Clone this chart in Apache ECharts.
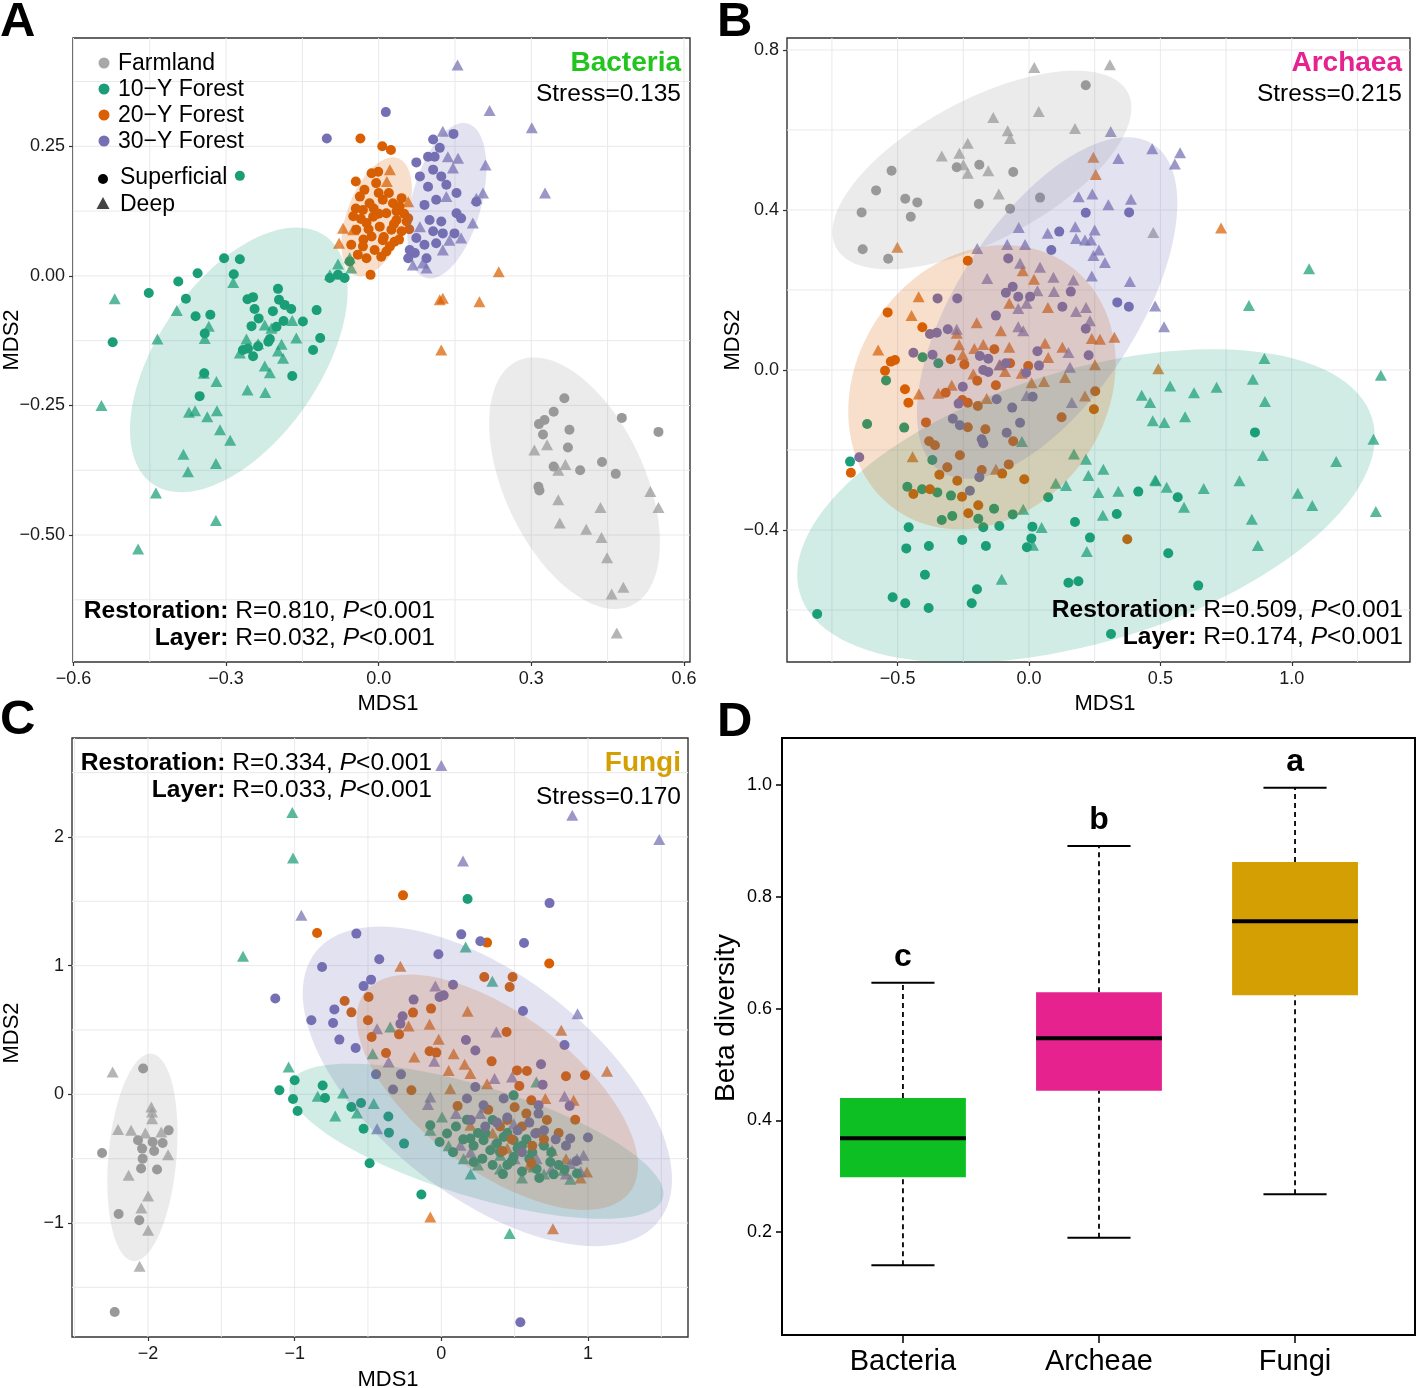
<!DOCTYPE html>
<html><head><meta charset="utf-8">
<script src="https://cdn.jsdelivr.net/npm/echarts@6/dist/echarts.min.js"></script>
<style>html,body{margin:0;padding:0;background:#fff}#c{width:1416px;height:1388px}</style>
</head><body><div id="c"></div>
<script>
// ---------------- DATA ----------------
const groupNames = ['Farmland', '10\u2212Y Forest', '20\u2212Y Forest', '30\u2212Y Forest'];
const groupColors = ['#999999', '#1b9e77', '#d95f02', '#7570b3'];

// Panel A (Bacteria)
const aFarmSup = [[0.365,-0.236],[0.344,-0.262],[0.326,-0.278],[0.315,-0.286],[0.323,-0.306],[0.375,-0.297],[0.372,-0.331],[0.478,-0.274],[0.550,-0.301],[0.344,-0.368],[0.396,-0.375],[0.439,-0.359],[0.466,-0.382],[0.314,-0.407],[0.316,-0.414]];
const aFarmDeep = [[0.306,-0.336],[0.331,-0.326],[0.367,-0.364],[0.353,-0.375],[0.353,-0.432],[0.436,-0.447],[0.534,-0.416],[0.550,-0.447],[0.356,-0.477],[0.408,-0.489],[0.438,-0.505],[0.449,-0.544],[0.481,-0.601],[0.458,-0.614],[0.468,-0.689]];
const a10Sup = [[-0.304,0.034],[-0.273,0.032],[-0.356,0.005],[-0.285,0.003],[-0.394,-0.011],[-0.452,-0.033],[-0.379,-0.044],[-0.258,-0.045],[-0.247,-0.041],[-0.198,-0.025],[-0.196,-0.046],[-0.185,-0.056],[-0.244,-0.064],[-0.208,-0.068],[-0.172,-0.064],[-0.360,-0.078],[-0.331,-0.075],[-0.236,-0.082],[-0.122,-0.066],[-0.149,-0.088],[-0.187,-0.087],[-0.201,-0.098],[-0.250,-0.097],[-0.342,-0.111],[-0.523,-0.128],[-0.214,-0.122],[-0.115,-0.120],[-0.129,-0.143],[-0.257,-0.140],[-0.237,-0.136],[-0.247,-0.155],[-0.267,-0.143],[-0.170,-0.193],[-0.343,-0.188],[-0.352,-0.232],[-0.217,-0.127],[-0.096,-0.004],[-0.080,0.002],[-0.067,-0.004],[-0.057,0.028],[-0.273,0.193]];
const a10Deep = [[-0.519,-0.044],[-0.397,-0.067],[-0.334,-0.097],[-0.342,-0.121],[-0.435,-0.122],[-0.286,-0.013],[-0.224,-0.095],[-0.211,-0.101],[-0.170,-0.086],[-0.260,-0.122],[-0.191,-0.132],[-0.198,-0.145],[-0.188,-0.159],[-0.162,-0.120],[-0.273,-0.149],[-0.237,-0.131],[-0.224,-0.174],[-0.214,-0.187],[-0.344,-0.188],[-0.319,-0.204],[-0.258,-0.220],[-0.223,-0.225],[-0.545,-0.250],[-0.361,-0.260],[-0.373,-0.263],[-0.318,-0.260],[-0.337,-0.272],[-0.312,-0.297],[-0.292,-0.317],[-0.384,-0.344],[-0.320,-0.362],[-0.375,-0.378],[-0.438,-0.419],[-0.320,-0.472],[-0.473,-0.527],[-0.080,0.023],[-0.096,0.002],[-0.054,0.015],[-0.057,0.035]];
const a20Sup = [[-0.036,0.265],[0.007,0.250],[0.024,0.243],[-0.045,0.182],[-0.014,0.198],[-0.001,0.201],[-0.028,0.166],[-0.005,0.179],[-0.037,0.153],[-0.018,0.140],[0.008,0.147],[0.028,0.140],[0.041,0.134],[-0.031,0.127],[-0.011,0.114],[0.015,0.121],[0.035,0.108],[0.058,0.111],[-0.024,0.102],[0.002,0.095],[0.025,0.089],[0.045,0.086],[-0.044,0.089],[-0.014,0.076],[0.008,0.069],[0.031,0.066],[-0.054,0.060],[-0.031,0.057],[-0.008,0.050],[0.015,0.047],[-0.024,0.034],[0.005,0.037],[-0.041,0.041],[0.022,0.057],[-0.016,0.002],[-0.010,0.130],[0.020,0.160],[0.035,0.125],[-0.020,0.090],[0.000,0.120],[0.030,0.100],[0.050,0.120],[-0.035,0.110],[0.010,0.075],[-0.045,0.130],[0.045,0.150],[0.060,0.090],[-0.030,0.070],[0.040,0.070],[0.000,0.160],[-0.050,0.115],[0.055,0.105]];
const a20Deep = [[0.022,0.205],[0.016,0.182],[-0.070,0.092],[-0.050,0.089],[-0.078,0.063],[0.058,0.143],[0.236,0.008],[0.120,-0.046],[0.126,-0.043],[0.198,-0.050],[0.123,-0.143]];
const a30Sup = [[0.014,0.316],[-0.102,0.265],[0.147,0.274],[0.107,0.263],[0.120,0.247],[0.074,0.219],[0.097,0.230],[0.110,0.230],[0.081,0.192],[0.107,0.205],[0.123,0.192],[0.097,0.172],[0.133,0.176],[0.153,0.160],[0.090,0.137],[0.113,0.147],[0.192,0.143],[0.153,0.121],[0.162,0.111],[0.123,0.105],[0.100,0.108],[0.107,0.086],[0.126,0.082],[0.149,0.082],[0.074,0.073],[0.090,0.060],[0.113,0.063],[0.061,0.050],[0.058,0.034],[0.094,0.034],[0.071,0.044]];
const a30Deep = [[0.155,0.407],[0.218,0.319],[0.301,0.286],[0.327,0.160],[0.126,0.279],[0.136,0.230],[0.156,0.227],[0.146,0.208],[0.210,0.214],[0.205,0.160],[0.192,0.150],[0.133,0.153],[0.185,0.102],[0.162,0.073],[0.139,0.069],[0.126,0.050],[0.087,0.025],[0.067,0.021],[0.094,0.015],[0.081,0.095]];
// ellipses: [cx, cy, ux, uy, vx, vy, group]
const aEllipses = [[0.385,-0.400,0.112,-0.236,-0.125,-0.057,0],[-0.275,-0.162,0.170,0.239,0.130,-0.090,1],[-0.004,0.114,0.042,0.113,0.055,-0.020,2],[0.134,0.145,0.041,0.149,0.066,-0.018,3]];
const aXTicks = [-0.6,-0.3,0,0.3,0.6];
const aYTicks = [-0.5,-0.25,0,0.25];
const aXGrid = [-0.6,-0.45,-0.3,-0.15,0,0.15,0.3,0.45,0.6];
const aYGrid = [-0.625,-0.5,-0.375,-0.25,-0.125,0,0.125,0.25,0.375];

// Panel B (Archaea)
const bFarmSup = [[0.216,0.712],[-0.523,0.498],[-0.275,0.507],[-0.189,0.513],[-0.060,0.495],[-0.582,0.449],[-0.471,0.428],[-0.425,0.419],[-0.637,0.394],[-0.450,0.383],[-0.191,0.415],[-0.072,0.403],[0.042,0.431],[-0.633,0.302],[-0.536,0.278]];
const bFarmDeep = [[0.020,0.756],[0.308,0.763],[-0.136,0.631],[0.037,0.646],[-0.081,0.598],[-0.072,0.579],[0.175,0.604],[-0.233,0.567],[-0.265,0.542],[-0.332,0.535],[-0.250,0.513],[-0.233,0.492],[-0.155,0.498],[-0.115,0.440],[0.473,0.344]];
const b10Sup = [[-0.405,0.032],[-0.345,0.017],[-0.544,-0.026],[-0.616,-0.135],[-0.475,-0.144],[-0.681,-0.229],[-0.368,-0.225],[-0.463,-0.292],[-0.407,-0.298],[-0.349,-0.306],[-0.297,-0.314],[-0.133,-0.347],[-0.062,-0.361],[0.073,-0.318],[0.416,-0.304],[0.334,-0.360],[0.175,-0.380],[0.232,-0.419],[-0.332,-0.375],[-0.292,-0.365],[-0.193,-0.372],[-0.174,-0.393],[-0.113,-0.390],[0.013,-0.392],[0.009,-0.421],[-0.458,-0.393],[-0.254,-0.425],[-0.164,-0.440],[-0.467,-0.446],[-0.381,-0.440],[-0.008,-0.443],[0.860,-0.156],[0.566,-0.318],[0.530,-0.458],[0.150,-0.532],[0.188,-0.528],[0.644,-0.539],[-0.396,-0.512],[-0.198,-0.548],[-0.519,-0.568],[-0.471,-0.583],[-0.382,-0.595],[-0.218,-0.583],[-0.806,-0.610],[0.312,-0.660]];
const b10Deep = [[-0.027,-0.179],[0.171,-0.210],[0.217,-0.223],[0.283,-0.248],[0.226,-0.264],[0.102,-0.283],[0.141,-0.289],[0.264,-0.306],[0.340,-0.303],[0.281,-0.363],[0.480,-0.275],[0.429,-0.063],[0.461,-0.081],[0.471,-0.127],[-0.022,-0.348],[0.048,-0.394],[1.066,0.253],[0.837,0.161],[0.896,0.029],[1.339,-0.013],[0.852,-0.023],[0.537,-0.040],[0.714,-0.043],[0.628,-0.057],[0.594,-0.117],[0.515,-0.131],[0.898,-0.079],[1.311,-0.173],[0.890,-0.214],[1.169,-0.229],[0.483,-0.277],[0.524,-0.293],[0.665,-0.296],[0.801,-0.277],[0.590,-0.343],[1.023,-0.308],[1.078,-0.339],[0.848,-0.373],[1.320,-0.354],[0.871,-0.439],[0.220,-0.454],[-0.104,-0.523],[0.015,-0.438]];
const b20Sup = [[-0.233,0.273],[-0.538,0.144],[-0.406,0.107],[-0.526,0.021],[-0.510,0.025],[-0.548,-0.002],[-0.298,0.027],[-0.246,0.014],[-0.132,0.052],[-0.072,0.017],[-0.003,0.010],[-0.472,-0.048],[-0.459,-0.082],[-0.197,-0.027],[-0.126,-0.038],[-0.317,-0.057],[-0.254,-0.075],[-0.233,-0.082],[-0.195,-0.090],[-0.392,-0.131],[-0.233,-0.143],[-0.166,-0.148],[-0.060,-0.178],[-0.380,-0.178],[-0.358,-0.188],[0.252,-0.053],[0.247,-0.098],[0.124,-0.118],[-0.263,-0.213],[-0.311,-0.243],[-0.341,-0.262],[-0.180,-0.250],[-0.102,-0.259],[-0.077,-0.236],[-0.018,-0.273],[-0.273,-0.277],[-0.678,-0.257],[-0.440,-0.310],[-0.377,-0.298],[-0.255,-0.317],[-0.193,-0.338],[-0.231,-0.358],[0.374,-0.423]];
const b20Deep = [[0.245,0.532],[0.254,0.489],[-0.501,0.307],[-0.024,0.248],[0.019,0.227],[-0.420,0.183],[-0.447,0.136],[-0.075,0.167],[0.072,0.156],[-0.199,0.118],[-0.107,0.098],[0.239,0.079],[0.270,0.077],[0.325,0.082],[-0.275,0.092],[-0.574,0.050],[-0.266,0.063],[-0.208,0.054],[-0.174,0.064],[-0.075,0.057],[-0.252,0.038],[0.061,0.067],[0.127,0.057],[0.073,0.031],[0.251,0.013],[-0.110,0.013],[-0.091,-0.004],[-0.212,-0.010],[-0.294,-0.038],[-0.345,-0.058],[-0.419,-0.060],[-0.161,-0.071],[0.010,-0.032],[0.057,-0.029],[0.137,-0.019],[0.213,-0.065],[-0.443,-0.217],[-0.126,-0.248],[-0.028,-0.008],[0.492,0.003],[0.731,0.355]];
const b30Sup = [[0.216,0.393],[0.381,0.394],[0.115,0.346],[0.085,0.300],[-0.079,0.279],[0.336,0.169],[0.380,0.158],[0.159,0.196],[0.127,0.158],[0.004,0.183],[-0.041,0.183],[-0.062,0.208],[-0.088,0.193],[-0.273,0.179],[-0.348,0.179],[-0.126,0.136],[-0.309,0.102],[-0.351,0.093],[-0.377,0.090],[0.216,0.103],[-0.440,0.043],[-0.367,0.038],[-0.187,0.035],[-0.155,0.028],[0.032,0.047],[0.038,0.011],[-0.088,0.017],[-0.174,0.000],[-0.155,-0.005],[-0.011,-0.007],[0.227,0.037],[-0.252,-0.042],[-0.268,-0.084],[-0.123,-0.073],[-0.064,-0.094],[0.014,-0.067],[-0.290,-0.122],[-0.263,-0.138],[-0.034,-0.132],[-0.085,-0.157],[-0.180,-0.173],[-0.174,-0.183],[-0.646,-0.218],[-0.189,-0.268],[-0.225,-0.302]];
const b30Deep = [[0.311,0.596],[0.469,0.553],[0.575,0.543],[0.555,0.515],[0.340,0.529],[0.189,0.433],[0.241,0.440],[0.302,0.413],[0.388,0.427],[-0.039,0.356],[0.071,0.342],[0.176,0.358],[0.250,0.350],[0.179,0.329],[0.213,0.325],[0.236,0.325],[-0.197,0.304],[-0.083,0.314],[-0.015,0.314],[0.266,0.300],[0.245,0.286],[0.289,0.269],[-0.034,0.267],[0.042,0.257],[-0.159,0.229],[0.093,0.232],[0.169,0.225],[0.239,0.235],[0.384,0.221],[0.032,0.198],[0.095,0.196],[-0.009,0.167],[-0.041,0.154],[0.179,0.146],[0.217,0.156],[0.480,0.160],[0.514,0.108],[0.232,0.123],[-0.041,0.108],[-0.022,0.098],[-0.275,0.102],[0.150,0.044],[0.156,0.007],[-0.009,-0.064],[0.163,-0.081],[-0.113,0.013]];
const bEllipses = [[-0.179,0.500,0.555,0.194,0.125,-0.155,0],[0.217,-0.340,1.089,0.219,0.151,-0.325,1],[-0.179,-0.043,0.327,0.307,0.390,-0.179,2],[0.069,0.155,0.404,0.409,0.287,-0.123,3]];
const bXTicks = [-0.5,0,0.5,1.0];
const bYTicks = [-0.4,0,0.4,0.8];
const bXGrid = [-0.75,-0.5,-0.25,0,0.25,0.5,0.75,1,1.25];
const bYGrid = [-0.6,-0.4,-0.2,0,0.2,0.4,0.6,0.8];

// Panel C (Fungi)
const cFarmSup = [[-2.033,0.200],[-1.859,-0.280],[-2.068,-0.357],[-1.968,-0.371],[-1.900,-0.378],[-2.040,-0.422],[-1.958,-0.441],[-2.313,-0.456],[-2.036,-0.500],[-2.047,-0.577],[-1.938,-0.585],[-2.200,-0.930],[-2.059,-0.979],[-2.227,-1.692]];
const cFarmDeep = [[-2.241,0.173],[-1.977,-0.099],[-1.972,-0.138],[-1.972,-0.189],[-2.204,-0.274],[-2.115,-0.280],[-2.018,-0.301],[-1.909,-0.293],[-1.863,-0.469],[-2.132,-0.629],[-1.999,-0.790],[-2.045,-0.883],[-1.999,-1.057],[-2.057,-1.336]];
const c10Sup = [[0.179,1.518],[-1.000,0.109],[-1.104,0.031],[-1.011,-0.037],[-0.980,-0.130],[-0.809,0.068],[-0.793,-0.029],[-0.613,-0.099],[-0.547,-0.068],[-0.530,-0.267],[-0.361,-0.173],[-0.357,-0.298],[-0.254,-0.383],[-0.489,-0.536],[-0.136,-0.779],[-0.075,-0.241],[-0.012,-0.371],[0.175,-0.197],[0.198,-0.344],[0.288,-0.357],[0.220,-0.526],[0.493,-0.487],[0.493,-0.357],[0.425,-0.332],[0.743,-0.526],[0.766,-0.622],[0.668,-0.650],[0.925,-0.616],[0.493,-0.008],[0.840,-0.585],[0.039,-0.305],[0.334,-0.435],[0.100,-0.250],[0.250,-0.300],[0.400,-0.450],[0.550,-0.400],[0.600,-0.500],[0.350,-0.200],[0.450,-0.550],[0.150,-0.350],[0.220,-0.400],[0.300,-0.300],[0.380,-0.380],[0.450,-0.300],[0.520,-0.420],[0.580,-0.350],[0.620,-0.450],[0.700,-0.400],[0.280,-0.500],[0.350,-0.550],[0.480,-0.520],[0.550,-0.600],[0.750,-0.450],[0.800,-0.550],[0.080,-0.450],[0.420,-0.620],[0.650,-0.580]];
const c10Deep = [[-1.011,1.836],[-1.016,2.191],[-1.352,1.072],[0.166,1.145],[0.348,0.878],[-1.041,0.212],[-0.843,-0.016],[-0.670,0.010],[-0.723,-0.169],[-0.575,-0.145],[-0.461,-0.072],[-0.468,0.316],[-0.348,0.523],[-0.075,-0.280],[0.005,-0.176],[0.152,-0.500],[0.402,-0.474],[0.648,0.096],[0.629,-0.565],[0.466,-1.082],[0.834,-0.591],[0.250,-0.550],[0.400,-0.580],[0.550,-0.650],[0.700,-0.620],[0.880,-0.660],[0.050,-0.400],[0.200,-0.620]];
const c20Sup = [[-0.261,1.546],[-0.847,1.253],[0.312,1.179],[0.736,1.016],[0.293,0.911],[0.486,0.911],[0.466,0.834],[-0.659,0.725],[-0.613,0.637],[-0.496,0.756],[-0.500,0.575],[-0.193,0.635],[-0.070,0.666],[-0.475,0.445],[-0.288,0.466],[-0.377,0.321],[-0.080,0.334],[-0.034,0.324],[0.343,0.256],[0.445,0.484],[0.516,0.186],[0.584,0.181],[0.850,0.140],[0.980,0.148],[0.532,0.064],[0.614,-0.047],[0.913,-0.197],[-0.204,0.031],[0.111,-0.091],[0.418,-0.441],[0.614,-0.534],[0.450,-0.200],[0.550,-0.250],[0.500,-0.100],[0.700,-0.350],[0.400,-0.250],[0.480,-0.350],[0.580,-0.150],[0.650,-0.300],[0.720,-0.200],[0.800,-0.300],[0.320,-0.120],[0.620,-0.400]];
const c20Deep = [[-0.279,0.995],[0.179,0.645],[-0.080,0.544],[-0.223,0.531],[-0.018,0.427],[-0.184,0.290],[0.084,0.316],[0.159,0.233],[0.050,0.186],[0.198,0.161],[0.818,0.497],[1.130,0.179],[0.902,-0.047],[0.709,-0.033],[0.061,0.044],[0.312,0.083],[-0.075,-0.953],[0.761,-1.044],[0.993,-0.604],[0.755,-0.435],[0.198,-0.241],[0.450,-0.420],[0.600,-0.550],[0.850,-0.500],[0.950,-0.650],[0.350,-0.300]];
const c30Sup = [[0.738,1.486],[-0.579,1.249],[0.136,1.243],[0.266,1.189],[0.564,1.176],[-0.020,1.088],[-0.423,1.049],[-0.813,0.989],[-1.132,0.744],[-0.479,0.891],[-0.530,0.841],[0.080,0.852],[-0.189,0.736],[-0.012,0.756],[0.016,0.769],[-0.264,0.606],[-0.279,0.549],[-0.729,0.660],[-0.886,0.575],[-0.738,0.554],[0.557,0.647],[-0.695,0.425],[-0.584,0.360],[0.168,0.422],[0.232,0.340],[0.840,0.383],[0.680,0.233],[0.691,0.075],[-0.445,0.155],[-0.275,0.155],[-0.329,0.037],[0.232,0.057],[0.175,-0.033],[0.288,-0.085],[0.425,-0.033],[0.875,-0.091],[1.000,-0.336],[0.879,-0.344],[0.663,-0.085],[0.663,-0.150],[0.641,-0.305],[0.539,-1.772],[0.200,-0.200],[0.300,-0.250],[0.380,-0.220],[0.450,-0.180],[0.520,-0.280],[0.600,-0.220],[0.700,-0.280],[0.780,-0.350],[0.850,-0.400],[0.550,-0.450],[0.920,-0.520]];
const c30Deep = [[0.148,1.813],[1.486,1.981],[-0.954,1.391],[0.929,0.627],[-0.041,0.841],[-0.438,0.510],[-0.048,0.256],[-0.359,0.251],[0.375,0.484],[0.363,0.122],[0.482,0.134],[0.840,-0.016],[-0.075,-0.021],[-0.091,-0.080],[0.266,-0.150],[0.493,-0.228],[-0.438,-0.267],[0.130,-0.396],[0.970,-0.474],[0.925,-0.500],[0.879,-0.538],[0.697,-0.357],[0.000,2.556],[0.893,2.168],[0.200,-0.450],[0.350,-0.400],[0.500,-0.500],[0.650,-0.500],[0.750,-0.580],[0.850,-0.620],[0.950,-0.600],[0.300,-0.100],[0.100,-0.150]];
const cEllipses = [[-2.038,-0.490,0.062,0.805,0.231,-0.023,0],[0.239,-0.365,1.271,-0.443,-0.110,-0.409,1],[0.382,0.016,0.904,-0.776,-0.320,-0.484,2],[0.314,0.062,1.171,-1.043,-0.462,-0.674,3]];
const cXTicks = [-2,-1,0,1];
const cYTicks = [-1,0,1,2];
const cXGrid = [-2.5,-2,-1.5,-1,-0.5,0,0.5,1,1.5];
const cYGrid = [-1.5,-1,-0.5,0,0.5,1,1.5,2,2.5];

// Panel D (Beta diversity boxplot): [position, min, q1, median, q3, max]
const boxCats = ['Bacteria', 'Archeae', 'Fungi'];
const boxStats = [[1,0.141,0.298,0.368,0.440,0.646],[2,0.190,0.453,0.547,0.629,0.891],[3,0.268,0.624,0.756,0.862,0.995]];
const boxLetters = ['c', 'b', 'a'];
const boxColors = ['#0dbf22', '#e6228f', '#d49f02'];
const dYTicks = [0.2,0.4,0.6,0.8,1.0];

// ---------------- CHART ----------------
const FONT = '"Liberation Sans", Arial, Helvetica, sans-serif';
const chart = echarts.init(document.getElementById('c'), null, {renderer: 'canvas'});

function rgba(hex, a) {
  const n = parseInt(hex.slice(1), 16);
  return 'rgba(' + ((n >> 16) & 255) + ',' + ((n >> 8) & 255) + ',' + (n & 255) + ',' + a + ')';
}
function fmt(d) { return v => Number(v).toFixed(d).replace('-', '\u2212'); }

const grids = [
  {left: 73, top: 38, width: 617, height: 624},
  {left: 787, top: 38, width: 623, height: 624},
  {left: 72, top: 738, width: 616, height: 599},
  {left: 782, top: 738, width: 633, height: 597}
].map((g, i) => Object.assign(g, {show: true, borderColor: i === 3 ? '#000' : '#333', borderWidth: i === 3 ? 2 : 1.4, backgroundColor: 'transparent', containLabel: false, outerBoundsMode: 'none'}));

function axis(gi, min, max, ticks, formatter, isX, opts) {
  opts = opts || {};
  return {
    type: 'value', gridIndex: gi, min: min, max: max, scale: true,
    axisLine: {show: false, onZero: false}, splitLine: {show: false}, minorTick: {show: false}, minorSplitLine: {show: false},
    axisTick: {show: true, inside: false, length: opts.tickLen || 4, customValues: ticks, lineStyle: {color: opts.tickColor || '#333', width: opts.tickWidth || 1.2}},
    axisLabel: {show: true, customValues: ticks, formatter: formatter, fontSize: opts.fontSize || 18, fontFamily: FONT, color: opts.color || '#1a1a1a', margin: opts.margin || 8}
  };
}

const xAxes = [
  axis(0, -0.601, 0.612, aXTicks, fmt(1), true),
  axis(1, -0.921, 1.450, bXTicks, fmt(1), true),
  axis(2, -2.518, 1.682, cXTicks, fmt(0), true),
  axis(3, 0.383, 3.612, [1,2,3], v => boxCats[Math.round(v) - 1], true, {tickLen: 8, tickColor: '#000', tickWidth: 1.5, fontSize: 29, color: '#000', margin: 12})
];
const yAxes = [
  axis(0, -0.745, 0.459, aYTicks, fmt(2), false),
  axis(1, -0.730, 0.830, bYTicks, fmt(1), false),
  axis(2, -1.886, 2.769, cYTicks, fmt(0), false),
  axis(3, 0.016, 1.084, dYTicks, fmt(1), false, {tickLen: 6, tickColor: '#000', tickWidth: 1.5, fontSize: 18, color: '#000', margin: 10})
];

const series = [];

function gridSeries(gi, xs, ys) {
  series.push({
    type: 'custom', xAxisIndex: gi, yAxisIndex: gi, z: 1, silent: true, animation: false,
    data: xs.map(v => [v, 0, 0]).concat(ys.map(v => [0, v, 1])),
    renderItem: function (params, api) {
      const cs = params.coordSys;
      if (api.value(2) === 0) {
        const p = api.coord([api.value(0), 0]);
        return {type: 'line', shape: {x1: p[0], y1: cs.y, x2: p[0], y2: cs.y + cs.height}, style: {stroke: '#e9e9ee', lineWidth: 1}};
      }
      const p = api.coord([0, api.value(1)]);
      return {type: 'line', shape: {x1: cs.x, y1: p[1], x2: cs.x + cs.width, y2: p[1]}, style: {stroke: '#e9e9ee', lineWidth: 1}};
    }
  });
}

function scatterSeries(gi, arrs) {
  arrs.forEach((pair, g) => {
    series.push({type: 'scatter', xAxisIndex: gi, yAxisIndex: gi, z: 2, silent: true, animation: false,
      data: pair[1], symbol: 'triangle', symbolSize: [12, 11], itemStyle: {color: groupColors[g], opacity: 0.72}});
  });
  arrs.forEach((pair, g) => {
    series.push({type: 'scatter', xAxisIndex: gi, yAxisIndex: gi, z: 2, silent: true, animation: false,
      data: pair[0], symbol: 'circle', symbolSize: 10, itemStyle: {color: groupColors[g], opacity: 1}});
  });
}

function ellipseSeries(gi, ells) {
  series.push({
    type: 'custom', xAxisIndex: gi, yAxisIndex: gi, z: 3, silent: true, animation: false, clip: true,
    data: ells,
    renderItem: function (params, api) {
      const cx = api.value(0), cy = api.value(1), ux = api.value(2), uy = api.value(3), vx = api.value(4), vy = api.value(5), g = api.value(6);
      const pts = [];
      for (let k = 0; k < 120; k++) {
        const t = 2 * Math.PI * k / 120, c = Math.cos(t), s = Math.sin(t);
        pts.push(api.coord([cx + ux * c + vx * s, cy + uy * c + vy * s]));
      }
      return {type: 'polygon', shape: {points: pts}, style: {fill: rgba(groupColors[g], 0.2)}};
    }
  });
}

gridSeries(0, aXGrid, aYGrid);
gridSeries(1, bXGrid, bYGrid);
gridSeries(2, cXGrid, cYGrid);
scatterSeries(0, [[aFarmSup, aFarmDeep], [a10Sup, a10Deep], [a20Sup, a20Deep], [a30Sup, a30Deep]]);
scatterSeries(1, [[bFarmSup, bFarmDeep], [b10Sup, b10Deep], [b20Sup, b20Deep], [b30Sup, b30Deep]]);
scatterSeries(2, [[cFarmSup, cFarmDeep], [c10Sup, c10Deep], [c20Sup, c20Deep], [c30Sup, c30Deep]]);
ellipseSeries(0, aEllipses);
ellipseSeries(1, bEllipses);
ellipseSeries(2, cEllipses);

// boxplot
series.push({
  type: 'custom', xAxisIndex: 3, yAxisIndex: 3, z: 2, silent: true, animation: false,
  data: boxStats.map((b, i) => b.concat([i])),
  renderItem: function (params, api) {
    const x = api.value(0), i = api.value(6);
    const pMin = api.coord([x, api.value(1)]), pQ1 = api.coord([x, api.value(2)]), pMed = api.coord([x, api.value(3)]), pQ3 = api.coord([x, api.value(4)]), pMax = api.coord([x, api.value(5)]);
    const half = api.size([0.321, 0])[0];
    const cap = api.size([0.161, 0])[0];
    const cx = pMed[0];
    return {type: 'group', children: [
      {type: 'line', shape: {x1: cx, y1: pMin[1], x2: cx, y2: pQ1[1]}, style: {stroke: '#000', lineWidth: 1.8, lineDash: [5, 4]}},
      {type: 'line', shape: {x1: cx, y1: pQ3[1], x2: cx, y2: pMax[1]}, style: {stroke: '#000', lineWidth: 1.8, lineDash: [5, 4]}},
      {type: 'line', shape: {x1: cx - cap, y1: pMin[1], x2: cx + cap, y2: pMin[1]}, style: {stroke: '#000', lineWidth: 2}},
      {type: 'line', shape: {x1: cx - cap, y1: pMax[1], x2: cx + cap, y2: pMax[1]}, style: {stroke: '#000', lineWidth: 2}},
      {type: 'rect', shape: {x: cx - half, y: pQ3[1], width: 2 * half, height: pQ1[1] - pQ3[1]}, style: {fill: boxColors[i]}},
      {type: 'line', shape: {x1: cx - half, y1: pMed[1], x2: cx + half, y2: pMed[1]}, style: {stroke: '#000', lineWidth: 4}},
      {type: 'text', x: cx, y: pMax[1] - 26, style: {text: boxLetters[i], fontSize: 32, fontWeight: 'bold', fontFamily: FONT, fill: '#000', align: 'center', verticalAlign: 'middle'}}
    ]};
  }
});

// ---------------- TEXT / LEGEND ----------------
const g = [];
function txt(x, y, text, size, opts) {
  opts = opts || {};
  const el = {type: 'text', x: x, y: y, z: 100, silent: true, style: {text: text, fontSize: size, fontFamily: FONT, fontWeight: opts.bold ? 'bold' : 'normal', fontStyle: 'normal', fill: opts.color || '#000', align: opts.align || 'left', verticalAlign: 'middle'}};
  if (opts.rotate) el.rotation = opts.rotate;
  if (opts.rich) el.style.rich = opts.rich;
  g.push(el);
}
const RICH = {
  b: {fontSize: 24.6, fontFamily: FONT, fontWeight: 'bold', fill: '#000'},
  i: {fontSize: 24.6, fontFamily: FONT, fontStyle: 'italic', fill: '#000'}
};
// panel letters
txt(0, 22, 'A', 49, {bold: true});
txt(717, 22, 'B', 49, {bold: true});
txt(0, 720, 'C', 49, {bold: true});
txt(717, 722, 'D', 49, {bold: true});
// axis titles
txt(388, 704, 'MDS1', 22, {align: 'center'});
txt(1105, 704, 'MDS1', 22, {align: 'center'});
txt(388, 1380, 'MDS1', 22, {align: 'center'});
txt(12, 340, 'MDS2', 22, {align: 'center', rotate: Math.PI / 2});
txt(733, 340, 'MDS2', 22, {align: 'center', rotate: Math.PI / 2});
txt(12, 1033, 'MDS2', 22, {align: 'center', rotate: Math.PI / 2});
txt(726, 1018, 'Beta diversity', 28, {align: 'center', rotate: Math.PI / 2});
// titles and stress
txt(681, 63, 'Bacteria', 28, {bold: true, align: 'right', color: '#22c41e'});
txt(681, 94, 'Stress=0.135', 24.5, {align: 'right'});
txt(1402, 63, 'Archaea', 28, {bold: true, align: 'right', color: '#e6228f'});
txt(1402, 94, 'Stress=0.215', 24.5, {align: 'right'});
txt(681, 763, 'Fungi', 28, {bold: true, align: 'right', color: '#d49f02'});
txt(681, 797, 'Stress=0.170', 24.5, {align: 'right'});
// statistics
txt(435, 611, '{b|Restoration:} R=0.810, {i|P}<0.001', 24.6, {align: 'right', rich: RICH});
txt(435, 638, '{b|Layer:} R=0.032, {i|P}<0.001', 24.6, {align: 'right', rich: RICH});
txt(1403, 610, '{b|Restoration:} R=0.509, {i|P}<0.001', 24.6, {align: 'right', rich: RICH});
txt(1403, 637, '{b|Layer:} R=0.174, {i|P}<0.001', 24.6, {align: 'right', rich: RICH});
txt(432, 763, '{b|Restoration:} R=0.334, {i|P}<0.001', 24.6, {align: 'right', rich: RICH});
txt(432, 790, '{b|Layer:} R=0.033, {i|P}<0.001', 24.6, {align: 'right', rich: RICH});
// legend (panel A)
const legY = [63, 89, 115, 141];
groupNames.forEach((nm, i) => {
  g.push({type: 'circle', z: 100, silent: true, shape: {cx: 104, cy: legY[i], r: 5.5}, style: {fill: i === 0 ? '#a8a8a8' : groupColors[i]}});
  txt(118, legY[i] + 1, nm, 23);
});
g.push({type: 'circle', z: 100, silent: true, shape: {cx: 103, cy: 179, r: 5}, style: {fill: '#000'}});
txt(120, 178, 'Superficial', 23);
g.push({type: 'polygon', z: 100, silent: true, shape: {points: [[103, 197], [96.5, 209], [109.5, 209]]}, style: {fill: '#444'}});
txt(120, 205, 'Deep', 23);

chart.setOption({
  animation: false,
  backgroundColor: '#fff',
  grid: grids,
  xAxis: xAxes,
  yAxis: yAxes,
  series: series,
  graphic: {elements: g}
});
</script></body></html>
